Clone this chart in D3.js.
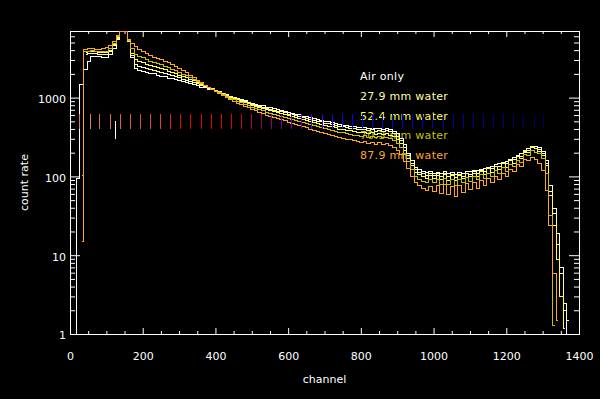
<!DOCTYPE html>
<html>
<head>
<meta charset="utf-8">
<script src="https://cdn.jsdelivr.net/npm/d3@7"></script>
<style>
    html, body { margin: 0; padding: 0; background: #000; }
    #spectrum-view { width: 600px; height: 399px; }
    text { font-family: "DejaVu Sans", sans-serif; font-size: 11px; fill: #fff; }
</style>
</head>
<body>
<div id="spectrum-view"></div>
<script>
var channels = d3.range(0, 1401, 10);

var airOnly = [
    null, 1, 95, 1500, 2300, 2900, 3350, 3400, 3350, 3300,
    3300, 3550, 4300, 5500, 7000, 7000, 5200, 3300, 2400, 2250,
    2200, 2130, 2080, 2030, 1960, 1900, 1860, 1790, 1750, 1700,
    1650, 1610, 1560, 1520, 1480, 1440, 1380, 1350, 1300, 1270,
    1220, 1190, 1140, 1100, 1060, 1030, 990, 960, 920, 890,
    865, 840, 815, 795, 770, 755, 730, 715, 695, 680,
    655, 645, 625, 612, 592, 580, 562, 552, 535, 525,
    508, 498, 485, 476, 460, 455, 445, 442, 432, 428,
    420, 422, 413, 415, 406, 410, 405, 408, 396, 380,
    352, 310, 255, 200, 160, 132, 124, 118, 114, 116,
    112, 115, 110, 116, 110, 113, 108, 114, 110, 116,
    116, 121, 119, 125, 127, 133, 136, 142, 146, 153,
    158, 168, 175, 186, 196, 212, 226, 240, 242, 234,
    210, 162, 78, 40, 19, 7, 2, 1, null, null,
    null
];

var water279 = [
    null, null, null, null, 3550, 3650, 3700, 3650, 3600, 3550,
    3600, 3850, 4600, 5700, 7000, 7000, 5200, 3500, 2700, 2550,
    2480, 2400, 2330, 2260, 2190, 2120, 2060, 1990, 1920, 1860,
    1800, 1740, 1680, 1620, 1560, 1510, 1450, 1400, 1340, 1300,
    1240, 1200, 1140, 1100, 1050, 1015, 975, 940, 900, 870,
    840, 815, 790, 765, 745, 725, 705, 685, 668, 650,
    628, 615, 598, 585, 565, 552, 536, 525, 508, 498,
    482, 472, 460, 450, 436, 430, 420, 416, 408, 404,
    396, 400, 388, 394, 382, 388, 382, 386, 372, 356,
    330, 290, 238, 188, 150, 124, 114, 110, 105, 110,
    104, 110, 101, 109, 100, 107, 98, 108, 102, 111,
    108, 116, 110, 120, 118, 127, 126, 137, 136, 148,
    146, 162, 164, 180, 184, 206, 214, 236, 232, 222,
    196, 148, 66, 34, 14, 6, 2.5, 1.5, null, null,
    null
];

var water524 = [
    null, null, null, null, 3750, 3850, 3900, 3850, 3800, 3750,
    3800, 4050, 4750, 5850, 7000, 7000, 5200, 3700, 3100, 2900,
    2800, 2700, 2600, 2520, 2440, 2360, 2280, 2200, 2120, 2040,
    1960, 1880, 1800, 1720, 1650, 1580, 1500, 1440, 1370, 1310,
    1240, 1190, 1125, 1080, 1030, 990, 948, 912, 872, 842,
    810, 780, 760, 730, 712, 690, 672, 650, 636, 615,
    596, 580, 566, 550, 532, 520, 505, 490, 478, 465,
    452, 440, 430, 418, 405, 398, 388, 384, 376, 370,
    362, 368, 352, 362, 346, 356, 344, 352, 336, 322,
    298, 262, 215, 172, 138, 114, 106, 100, 96, 104,
    95, 104, 92, 106, 90, 103, 89, 104, 95, 110,
    100, 112, 102, 118, 108, 126, 114, 134, 124, 146,
    132, 160, 150, 180, 172, 215, 206, 244, 226, 212,
    186, 138, 58, 24, 9, 3, 1.2, null, null, null,
    null
];

var water703 = [
    null, null, null, 105, 3900, 3950, 4050, 3950, 3900, 3900,
    3950, 4200, 4900, 6000, 7000, 7000, 5400, 4200, 3600, 3400,
    3250, 3100, 2950, 2850, 2750, 2650, 2550, 2430, 2320, 2220,
    2120, 2020, 1920, 1820, 1720, 1620, 1520, 1440, 1360, 1290,
    1225, 1170, 1100, 1050, 995, 955, 910, 872, 832, 798,
    770, 740, 712, 690, 665, 645, 625, 605, 585, 568,
    550, 535, 518, 505, 488, 475, 462, 448, 436, 425,
    412, 402, 390, 380, 368, 362, 352, 348, 340, 336,
    328, 334, 320, 330, 314, 324, 312, 320, 304, 290,
    268, 236, 194, 155, 124, 102, 94, 88, 84, 92,
    84, 94, 80, 95, 79, 92, 78, 94, 84, 98,
    88, 100, 92, 106, 96, 112, 102, 120, 110, 130,
    118, 142, 134, 162, 154, 192, 186, 214, 206, 196,
    172, 112, 32, 1.3, null, null, null, null, null, null,
    null
];

var water879 = [
    null, null, null, 15, 4100, 4250, 4300, 4150, 4100, 4200,
    4350, 4650, 5250, 6200, 7000, 7000, 5600, 5000, 4500, 4150,
    3900, 3650, 3450, 3300, 3200, 3100, 2950, 2800, 2650, 2520,
    2400, 2250, 2100, 1950, 1800, 1680, 1560, 1450, 1350, 1280,
    1210, 1140, 1070, 1010, 950, 910, 860, 825, 780, 750,
    715, 690, 660, 640, 610, 590, 570, 550, 530, 515,
    495, 480, 462, 450, 432, 420, 405, 392, 380, 370,
    356, 346, 335, 326, 315, 308, 300, 294, 286, 282,
    274, 280, 266, 276, 258, 270, 256, 266, 250, 236,
    216, 190, 158, 126, 100, 84, 78, 72, 68, 76,
    66, 78, 62, 80, 60, 76, 56, 78, 64, 82,
    70, 84, 72, 90, 78, 96, 84, 102, 92, 112,
    100, 124, 116, 144, 136, 166, 160, 174, 166, 150,
    120, 68, 24, 6, 1.5, null, null, null, null, null,
    null
];

var seriesLabels = ["Air only", "27.9 mm water", "52.4 mm water", "70.3 mm water", "87.9 mm water"];
var seriesColors = ["#ffffff", "#ffffa0", "#ffff40", "#c8c000", "#ffa428"];

// row of coloured marker dashes (channel positions) and their count span
var dashChannels = [26, 54, 81, 109, 137, 165, 192, 220, 248, 276, 303, 331, 359, 387, 414, 442,
    470, 498, 525, 553, 581, 609, 636, 664, 692, 720, 747, 775, 803, 831, 858, 886, 914, 942,
    969, 997, 1025, 1053, 1080, 1108, 1136, 1164, 1191, 1219, 1247, 1275, 1302];
var dashSpan = [400, 620];
var markerChannel = 125;
var markerSpan = [300, 505];

var xTickValues = [0, 200, 400, 600, 800, 1000, 1200, 1400];
var yTickValues = [1, 10, 100, 1000];

/**
 * Constructor for the spectrum chart
 */
function SpectrumChart() {
    var self = this;
    self.series = [airOnly, water279, water524, water703, water879];
    self.init();
}

/**
 * Sets up svg, scales and axes
 */
SpectrumChart.prototype.init = function() {
    var self = this;
    self.plot = {left: 70, right: 579, top: 31, bottom: 334};
    var div = d3.select("#spectrum-view");

    self.svg = div.append("svg")
        .attr("width", 600)
        .attr("height", 399);

    self.svg.append("rect")
        .attr("width", 600)
        .attr("height", 399)
        .attr("fill", "#000");

    self.x = d3.scaleLinear().domain([0, 1400]).range([self.plot.left, self.plot.right]);
    self.y = d3.scaleLog().domain([1, 7000]).range([self.plot.bottom, self.plot.top]);

    self.svg.append("clipPath").attr("id", "plot-clip")
        .append("rect")
        .attr("x", self.plot.left)
        .attr("y", self.plot.top)
        .attr("width", self.plot.right - self.plot.left + 1)
        .attr("height", self.plot.bottom - self.plot.top + 1);

    self.drawAxes();
    self.update();
};

/**
 * IDL style box axes, ticks pointing inwards on all four sides
 */
SpectrumChart.prototype.drawAxes = function() {
    var self = this;
    var p = self.plot;

    var xMinor = d3.range(0, 1401, 50).filter(function(d) { return d % 200 !== 0; });
    var yMinor = self.y.ticks().filter(function(d) { return yTickValues.indexOf(d) < 0; });

    var axes = [
        {axis: d3.axisBottom(self.x).tickValues(xTickValues).tickSize(-6).tickPadding(18).tickFormat(d3.format("d")), t: [0, p.bottom]},
        {axis: d3.axisBottom(self.x).tickValues(xMinor).tickSize(-3).tickFormat(""), t: [0, p.bottom]},
        {axis: d3.axisTop(self.x).tickValues(xTickValues).tickSize(-6).tickFormat(""), t: [0, p.top]},
        {axis: d3.axisTop(self.x).tickValues(xMinor).tickSize(-3).tickFormat(""), t: [0, p.top]},
        {axis: d3.axisLeft(self.y).tickValues(yTickValues).tickSize(-10).tickPadding(4).tickFormat(d3.format("d")), t: [p.left, 0]},
        {axis: d3.axisLeft(self.y).tickValues(yMinor).tickSize(-5).tickFormat(""), t: [p.left, 0]},
        {axis: d3.axisRight(self.y).tickValues(yTickValues).tickSize(-10).tickFormat(""), t: [p.right, 0]},
        {axis: d3.axisRight(self.y).tickValues(yMinor).tickSize(-5).tickFormat(""), t: [p.right, 0]}
    ];

    axes.forEach(function(a) {
        var g = self.svg.append("g")
            .attr("transform", "translate(" + a.t[0] + "," + a.t[1] + ")")
            .call(a.axis);
        g.select(".domain").remove();
        g.selectAll("line").attr("stroke", "#fff");
        g.selectAll("text")
            .attr("fill", "#fff")
            .style("font-family", "DejaVu Sans, sans-serif")
            .style("font-size", "11px");
    });

    // nudge y labels a little below their tick like the original
    self.svg.selectAll("g text").filter(function() {
        return this.getAttribute("x") !== null && +this.getAttribute("x") < 0;
    }).attr("dy", "0.45em");

    // frame
    self.svg.append("rect")
        .attr("x", p.left + 0.5)
        .attr("y", p.top + 0.5)
        .attr("width", p.right - p.left)
        .attr("height", p.bottom - p.top)
        .attr("fill", "none")
        .attr("stroke", "#fff");

    self.svg.append("text")
        .attr("x", (p.left + p.right) / 2)
        .attr("y", 383)
        .attr("text-anchor", "middle")
        .text("channel");

    self.svg.append("text")
        .attr("transform", "translate(27.5," + (p.top + p.bottom) / 2 + ") rotate(-90)")
        .attr("text-anchor", "middle")
        .text("count rate");
};

/**
 * Draws legend, spectra and the marker dashes
 */
SpectrumChart.prototype.update = function() {
    var self = this;

    //legend goes underneath the spectra
    self.svg.append("g").selectAll("text")
        .data(seriesLabels)
        .enter()
        .append("text")
        .attr("x", 360)
        .attr("y", function(d, i) { return 80 + i * 19.8; })
        .style("fill", function(d, i) { return seriesColors[i]; })
        .style("letter-spacing", "0.3px")
        .text(function(d) { return d; });

    var line = d3.line()
        .defined(function(d) { return d[1] != null; })
        .x(function(d) { return Math.round(self.x(d[0])) + 0.5; })
        .y(function(d) { return Math.round(self.y(d[1])) + 0.5; })
        .curve(d3.curveStep);

    self.svg.append("g")
        .attr("clip-path", "url(#plot-clip)")
        .selectAll("path")
        .data(self.series)
        .enter()
        .append("path")
        .attr("d", function(s) {
            return line(channels.map(function(c, i) { return [c, s[i]]; }));
        })
        .attr("fill", "none")
        .attr("stroke", function(d, i) { return seriesColors[i]; })
        .attr("stroke-width", 1)
        .attr("shape-rendering", "crispEdges");

    // dash colours run salmon -> red -> purple -> blue -> navy
    var dashColor = d3.scaleLinear()
        .domain([26, 250, 300, 440, 520, 620, 700, 760, 840, 1302])
        .range(["#d8806c", "#e03c30", "#ee0000", "#e00000", "#a00060", "#7000b0", "#3a00e8", "#0000ff", "#0000f0", "#000058"])
        .interpolate(d3.interpolateRgb);

    self.svg.append("g").selectAll("line")
        .data(dashChannels)
        .enter()
        .append("line")
        .attr("x1", function(d) { return Math.round(self.x(d)) + 0.5; })
        .attr("x2", function(d) { return Math.round(self.x(d)) + 0.5; })
        .attr("y1", Math.round(self.y(dashSpan[0])))
        .attr("y2", Math.round(self.y(dashSpan[1])))
        .attr("stroke", function(d) { return dashColor(d); });

    self.svg.append("line")
        .attr("x1", Math.round(self.x(markerChannel)) + 0.5)
        .attr("x2", Math.round(self.x(markerChannel)) + 0.5)
        .attr("y1", Math.round(self.y(markerSpan[0])))
        .attr("y2", Math.round(self.y(markerSpan[1])))
        .attr("stroke", "#fff");
};

var chart = new SpectrumChart();
</script>
</body>
</html>
